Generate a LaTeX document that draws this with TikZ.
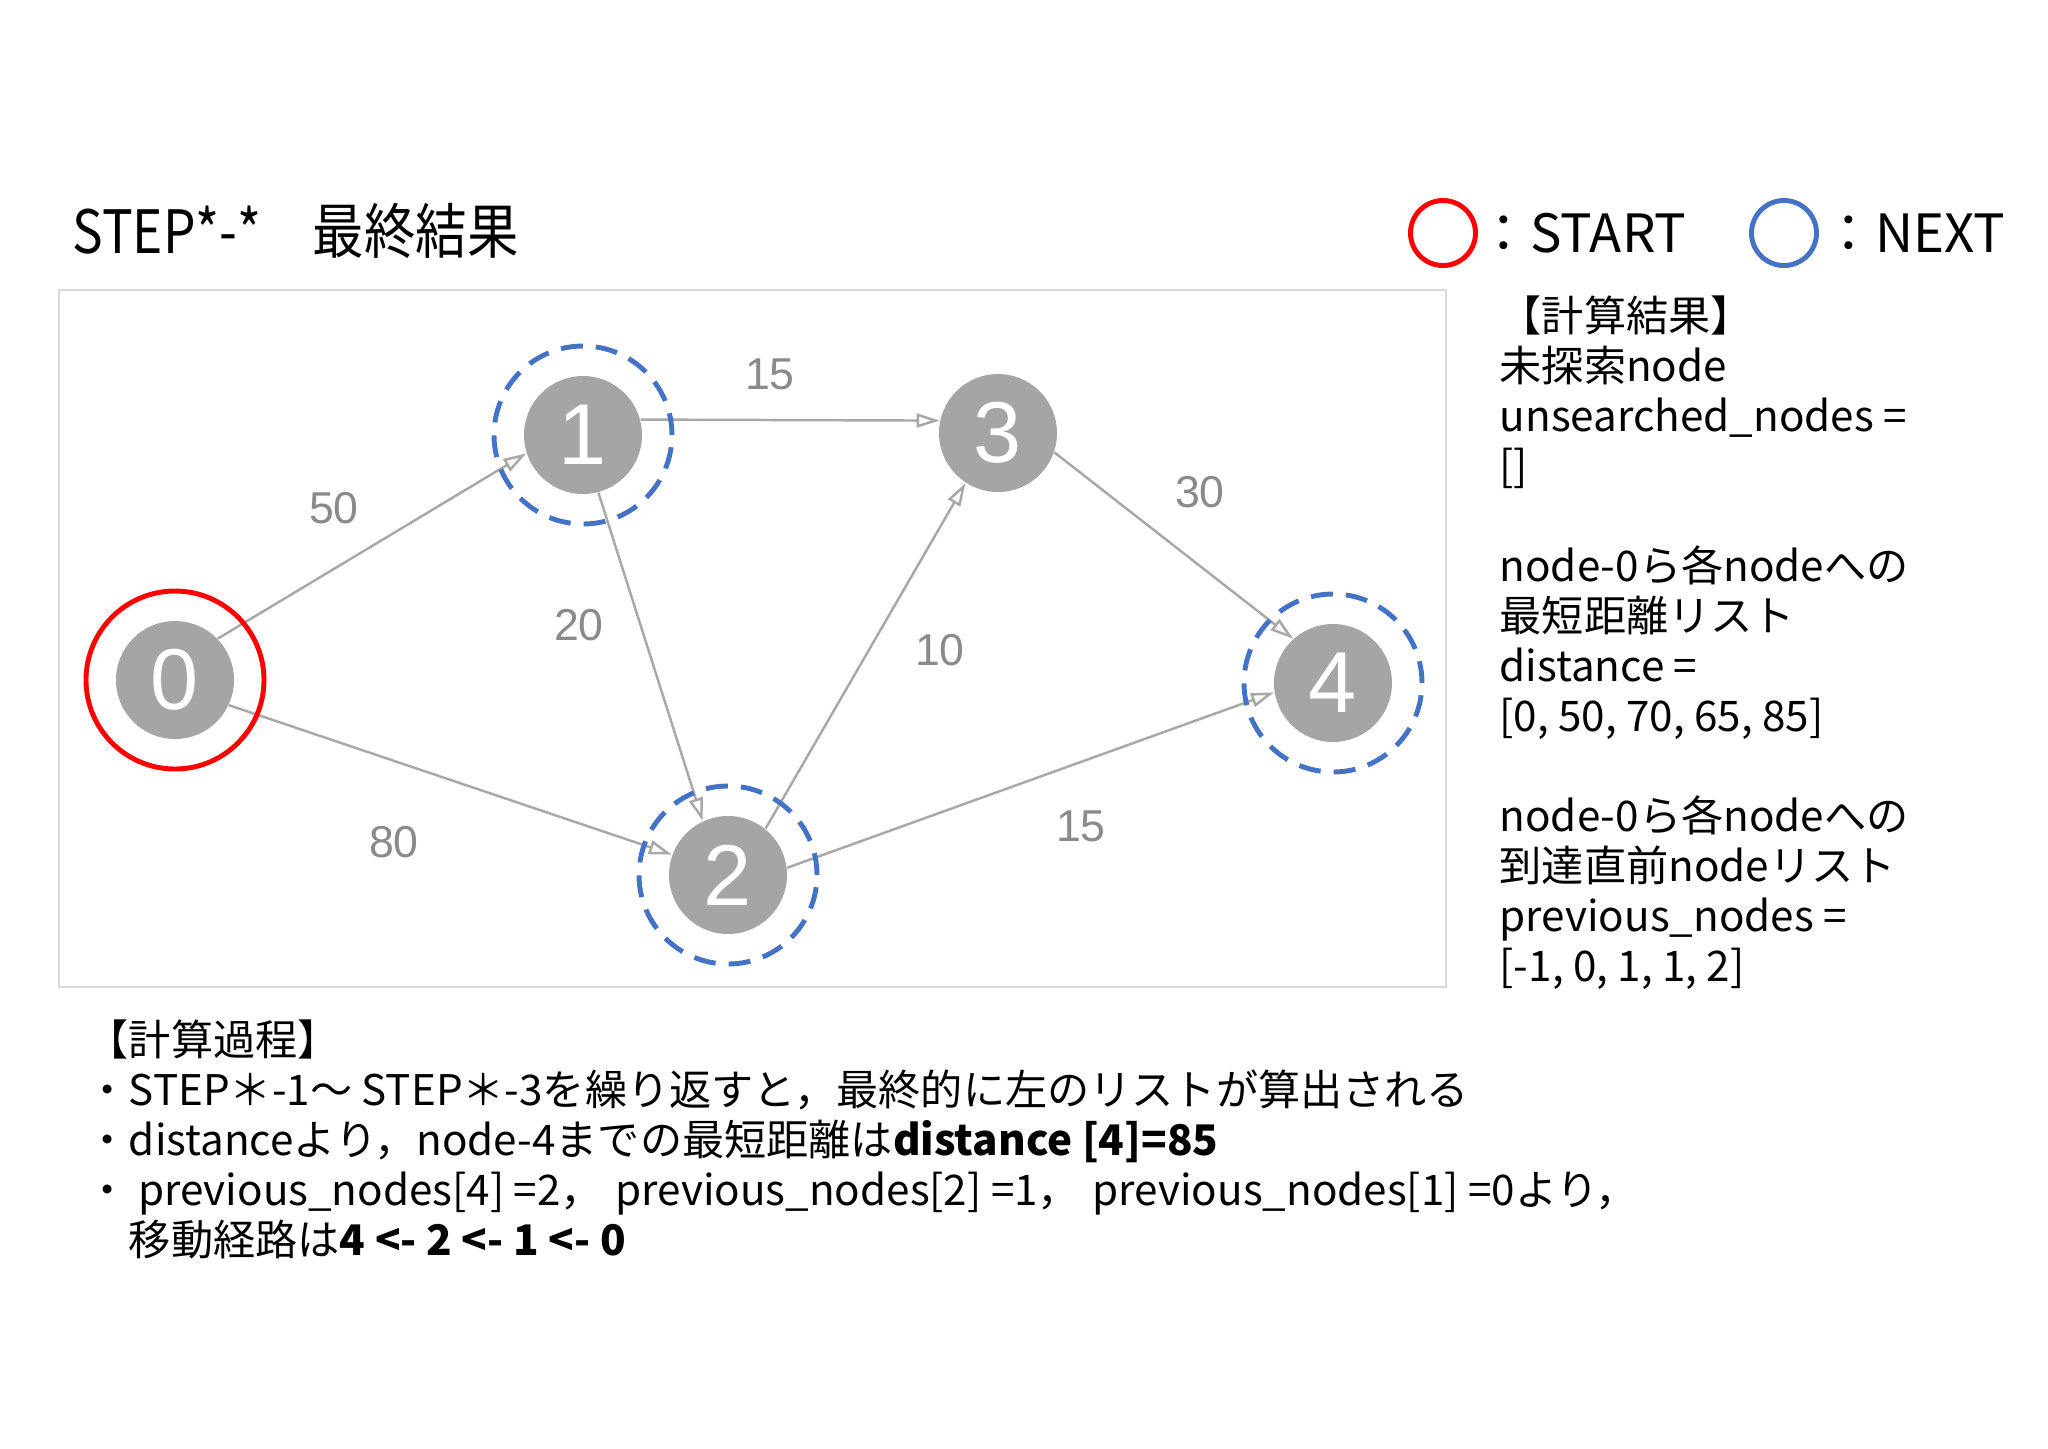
\documentclass[tikz,border=0pt]{standalone}
\usepackage{fontspec}
\setmainfont{Noto Sans CJK JP}
\newfontfamily\titlefont[FakeStretch=0.86]{Noto Sans CJK JP}
\newfontfamily\numfont{Liberation Sans}
\usetikzlibrary{arrows.meta}
\definecolor{vertgray}{HTML}{A5A5A5}
\definecolor{edgegray}{HTML}{A8A8A8}
\definecolor{labgray}{HTML}{8A8A8A}
\definecolor{framegray}{HTML}{D9D9D9}
\definecolor{startred}{HTML}{FF0000}
\definecolor{nextblue}{HTML}{4472C4}
\begin{document}
\begin{tikzpicture}[
    vert/.style={circle, fill=vertgray, text=white, minimum size=1.18cm, inner sep=0pt,
      font=\numfont\fontsize{24.6}{26}\selectfont},
    startring/.style={circle, draw=startred, line width=1.4pt, minimum size=1.78cm, inner sep=0pt},
    nextring/.style={circle, draw=nextblue, line width=1.4pt, dash pattern=on 2.2mm off 1.3mm,
      minimum size=1.78cm, inner sep=0pt},
    legring/.style={circle, line width=1.4pt, minimum size=0.65cm, inner sep=0pt},
    edgearrow/.style={draw=edgegray, line width=0.7pt, -{Triangle[open, length=2.3mm, width=1.4mm]}},
    wlabel/.style={text=labgray, inner sep=0pt, font=\numfont\fontsize{12.7}{14}\selectfont},
  ]
    \useasboundingbox (0,0) rectangle (20.48,-14.48);
    % 見出しと凡例
    \node[anchor=base west, inner sep=0pt, font=\titlefont\fontsize{17}{20}\selectfont]
      (title) at (0.72,-2.53) {STEP*-*　最終結果};
    \node[legring, draw=startred] (legstart) at (14.43,-2.33) {};
    \node[anchor=base west, inner sep=0pt, font=\fontsize{15}{18}\selectfont]
      (legstarttxt) at (14.77,-2.52) {：START};
    \node[legring, draw=nextblue] (legnext) at (17.84,-2.33) {};
    \node[anchor=base west, inner sep=0pt, font=\fontsize{15}{18}\selectfont]
      (legnexttxt) at (18.22,-2.52) {：NEXT};
    % グラフの枠
    \draw[framegray, line width=0.7pt] (0.59,-2.90) rectangle (14.46,-9.87);
    % 頂点
    \node[vert] (n0) at (1.75,-6.80) {0};
    \node[vert] (n1) at (5.83,-4.35) {1};
    \node[vert] (n2) at (7.28,-8.75) {2};
    \node[vert] (n3) at (9.98,-4.33) {3};
    \node[vert] (n4) at (13.33,-6.83) {4};
    % 辺（有向）
    \draw[edgearrow] (n0.44) -- (n1.198);
    \draw[edgearrow] (n0.-25) -- (n2.160);
    \draw[edgearrow] (n1.-75) -- (n2.115);
    \draw[edgearrow] (n1.15) -- (n3.168);
    \draw[edgearrow] (n2.51) -- (n3.237);
    \draw[edgearrow] (n2.7) -- (n4.189);
    \draw[edgearrow] (n3.-19) -- (n4.132);
    % 辺の重み
    \node[wlabel] (w01) at (3.34,-5.08) {50};
    \node[wlabel] (w13) at (7.70,-3.74) {15};
    \node[wlabel] (w34) at (12.00,-4.92) {30};
    \node[wlabel] (w12) at (5.79,-6.25) {20};
    \node[wlabel] (w23) at (9.40,-6.50) {10};
    \node[wlabel] (w02) at (3.94,-8.42) {80};
    \node[wlabel] (w24) at (10.81,-8.26) {15};
    % START と NEXT の印
    \node[startring] (r0) at (n0) {};
    \node[nextring] (r1) at (n1) {};
    \node[nextring] (r2) at (n2) {};
    \node[nextring] (r4) at (n4) {};
    % 計算結果（base は最終行）
    \node[anchor=base west, align=left, inner sep=0pt, font=\fontsize{12}{14.22}\selectfont]
      (result) at (14.99,-9.81) {【計算結果】\\未探索node\\unsearched\_nodes =\\{}[]\\[14.22pt]%
      node-0ら各nodeへの\\最短距離リスト\\distance =\\{}[0, 50, 70, 65, 85]\\[14.22pt]%
      node-0ら各nodeへの\\到達直前nodeリスト\\previous\_nodes =\\{}[-1, 0, 1, 1, 2]};
    % 計算過程
    \node[anchor=base west, align=left, inner sep=0pt, font=\fontsize{12}{14.22}\selectfont]
      (process) at (0.86,-12.55) {【計算過程】\\%
      ・STEP＊-1～ STEP＊-3を繰り返すと，最終的に左のリストが算出される\\%
      ・distanceより，node-4までの最短距離は\textbf{distance [4]=85}\\%
      ・ previous\_nodes[4] =2，\hspace{0.3em}previous\_nodes[2] =1，\hspace{0.3em}previous\_nodes[1] =0より，\\%
      　移動経路は\textbf{4 <- 2 <- 1 <- 0}};
  \end{tikzpicture}
\end{document}
